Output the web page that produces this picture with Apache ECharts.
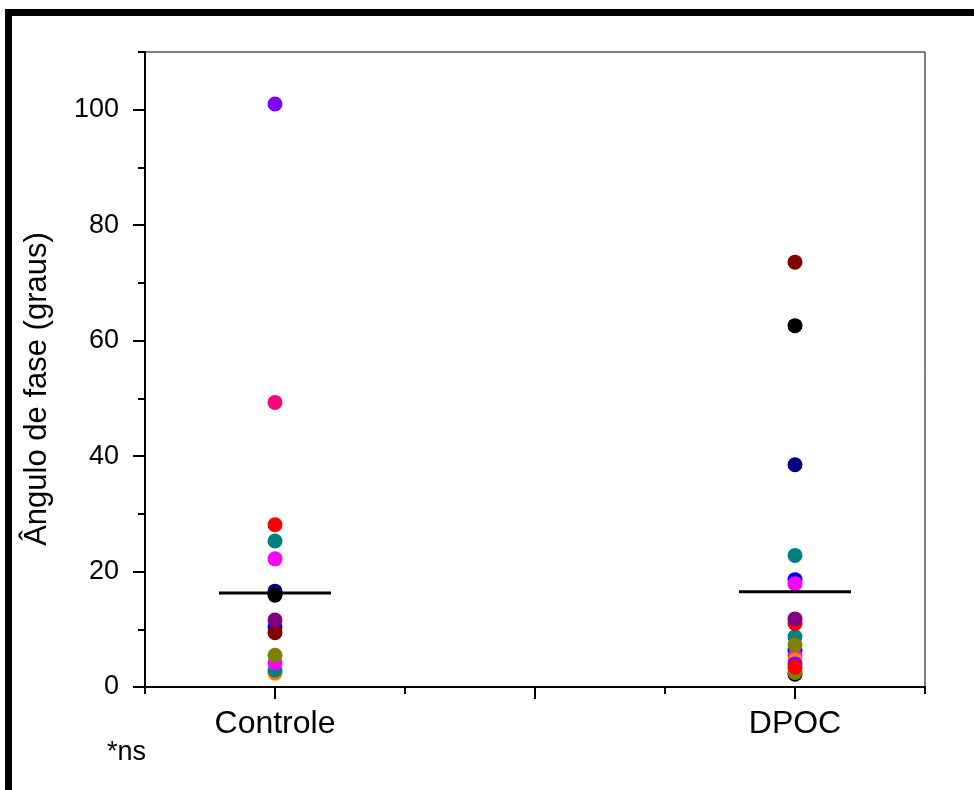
<!DOCTYPE html>
<html>
<head>
<meta charset="utf-8">
<script src="https://cdn.jsdelivr.net/npm/echarts@6/dist/echarts.min.js"></script>
<style>
  html, body { margin: 0; padding: 0; background: #fff; }
  #chart { width: 974px; height: 790px; }
</style>
</head>
<body>
<div id="chart"></div>
<script>
// ---- data ----
const categories = ['Controle', '', 'DPOC'];
const yTicks = [0, 20, 40, 60, 80, 100];
const controleValues = [2.4, 2.9, 4.2, 5.5, 10.4, 9.4, 11.6, 16.6, 15.9, 22.2, 25.3, 28.1, 49.3, 101.0];
const controleColors = ['#FF8000', '#008080', '#FF00FF', '#808000', '#0000FF', '#800000', '#800080', '#000080', '#000000', '#FF00FF', '#008080', '#FF0000', '#FF0080', '#8000FF'];
const dpocValues = [2.2, 2.5, 6.3, 5.4, 4.7, 4.0, 8.7, 7.3, 3.4, 11.0, 11.8, 18.6, 17.9, 22.8, 38.5, 62.6, 73.6];
const dpocColors = ['#000000', '#808000', '#0000FF', '#FF00FF', '#FF8000', '#8000FF', '#008080', '#808000', '#FF0000', '#FF0000', '#800080', '#0000FF', '#FF00FF', '#008080', '#000080', '#000000', '#800000'];
const means = [16.3, 16.5];
const yAxisTitle = 'Ângulo de fase (graus)';
const footnote = '*ns';

// ---- layout ----
const L = 145, R = 925, T = 52, B = 687, W = 974, H = 790;
const yMax = 110;
const font = "'Liberation Sans', Arial, sans-serif";
const plotH = B - T;
const h2 = plotH * 100 / yMax;

function pts(cat, vals, cols) {
  return vals.map((v, i) => ({ value: [cat, v], itemStyle: { color: cols[i], opacity: 1 } }));
}

const chart = echarts.init(document.getElementById('chart'), null, { renderer: 'canvas' });
chart.setOption({
  animation: false,
  backgroundColor: '#fff',
  grid: [
    { left: L, right: W - R, top: T, bottom: H - B, show: true, borderColor: '#000', borderWidth: 1, backgroundColor: 'transparent' },
    { left: L, right: W - R, top: B - h2, height: h2, show: false }
  ],
  xAxis: [
    {
      type: 'category', gridIndex: 0, data: categories, boundaryGap: true,
      axisLine: { show: true, lineStyle: { color: '#000', width: 2 } },
      axisTick: { show: true, alignWithLabel: true, inside: false, length: 12, lineStyle: { color: '#000', width: 2 } },
      axisLabel: { color: '#000', fontFamily: font, fontSize: 32, margin: 21 },
      splitLine: { show: false }
    },
    {
      type: 'value', gridIndex: 0, min: 0, max: 3, interval: 1, position: 'bottom',
      axisLine: { show: false },
      axisTick: { show: true, length: 7, lineStyle: { color: '#000', width: 2 } },
      axisLabel: { show: false }, splitLine: { show: false }
    },
    {
      type: 'value', gridIndex: 1, min: 0, max: 1, show: false
    }
  ],
  yAxis: [
    {
      type: 'value', gridIndex: 0, min: 0, max: yMax, interval: 10,
      axisLine: { show: true, lineStyle: { color: '#000', width: 2 } },
      axisTick: { show: true, length: 7, lineStyle: { color: '#000', width: 2 } },
      axisLabel: { show: false }, splitLine: { show: false }
    },
    {
      type: 'value', gridIndex: 1, min: yTicks[0], max: yTicks[yTicks.length - 1], interval: yTicks[1] - yTicks[0],
      axisLine: { show: false },
      axisTick: { show: true, length: 12, lineStyle: { color: '#000', width: 2 } },
      axisLabel: { color: '#000', fontFamily: font, fontSize: 27, margin: 26 },
      splitLine: { show: false }
    }
  ],
  series: [
    {
      type: 'scatter', xAxisIndex: 0, yAxisIndex: 0, symbol: 'circle', symbolSize: 15,
      itemStyle: { opacity: 1 },
      data: pts(categories[0], controleValues, controleColors), z: 3
    },
    {
      type: 'scatter', xAxisIndex: 0, yAxisIndex: 0, symbol: 'circle', symbolSize: 15,
      itemStyle: { opacity: 1 },
      data: pts(categories[2], dpocValues, dpocColors), z: 3
    },
    {
      type: 'scatter', xAxisIndex: 0, yAxisIndex: 0, symbol: 'rect', symbolSize: [112, 3],
      itemStyle: { color: '#000', opacity: 1 },
      data: [[categories[0], means[0]], [categories[2], means[1]]], z: 4
    }
  ],
  graphic: [
    { type: 'rect', shape: { x: 5, y: 9, width: W - 5, height: 7 }, style: { fill: '#000' } },
    { type: 'rect', shape: { x: 5, y: 9, width: 7, height: H - 9 }, style: { fill: '#000' } },
    { type: 'text', x: 37, y: 389, rotation: Math.PI / 2,
      style: { text: yAxisTitle, fill: '#000', font: "31px 'Liberation Sans', Arial, sans-serif", align: 'center', verticalAlign: 'middle' } },
    { type: 'text', x: 107, y: 753,
      style: { text: footnote, fill: '#000', font: "27px 'Liberation Sans', Arial, sans-serif", align: 'left', verticalAlign: 'middle' } }
  ]
});
</script>
</body>
</html>
